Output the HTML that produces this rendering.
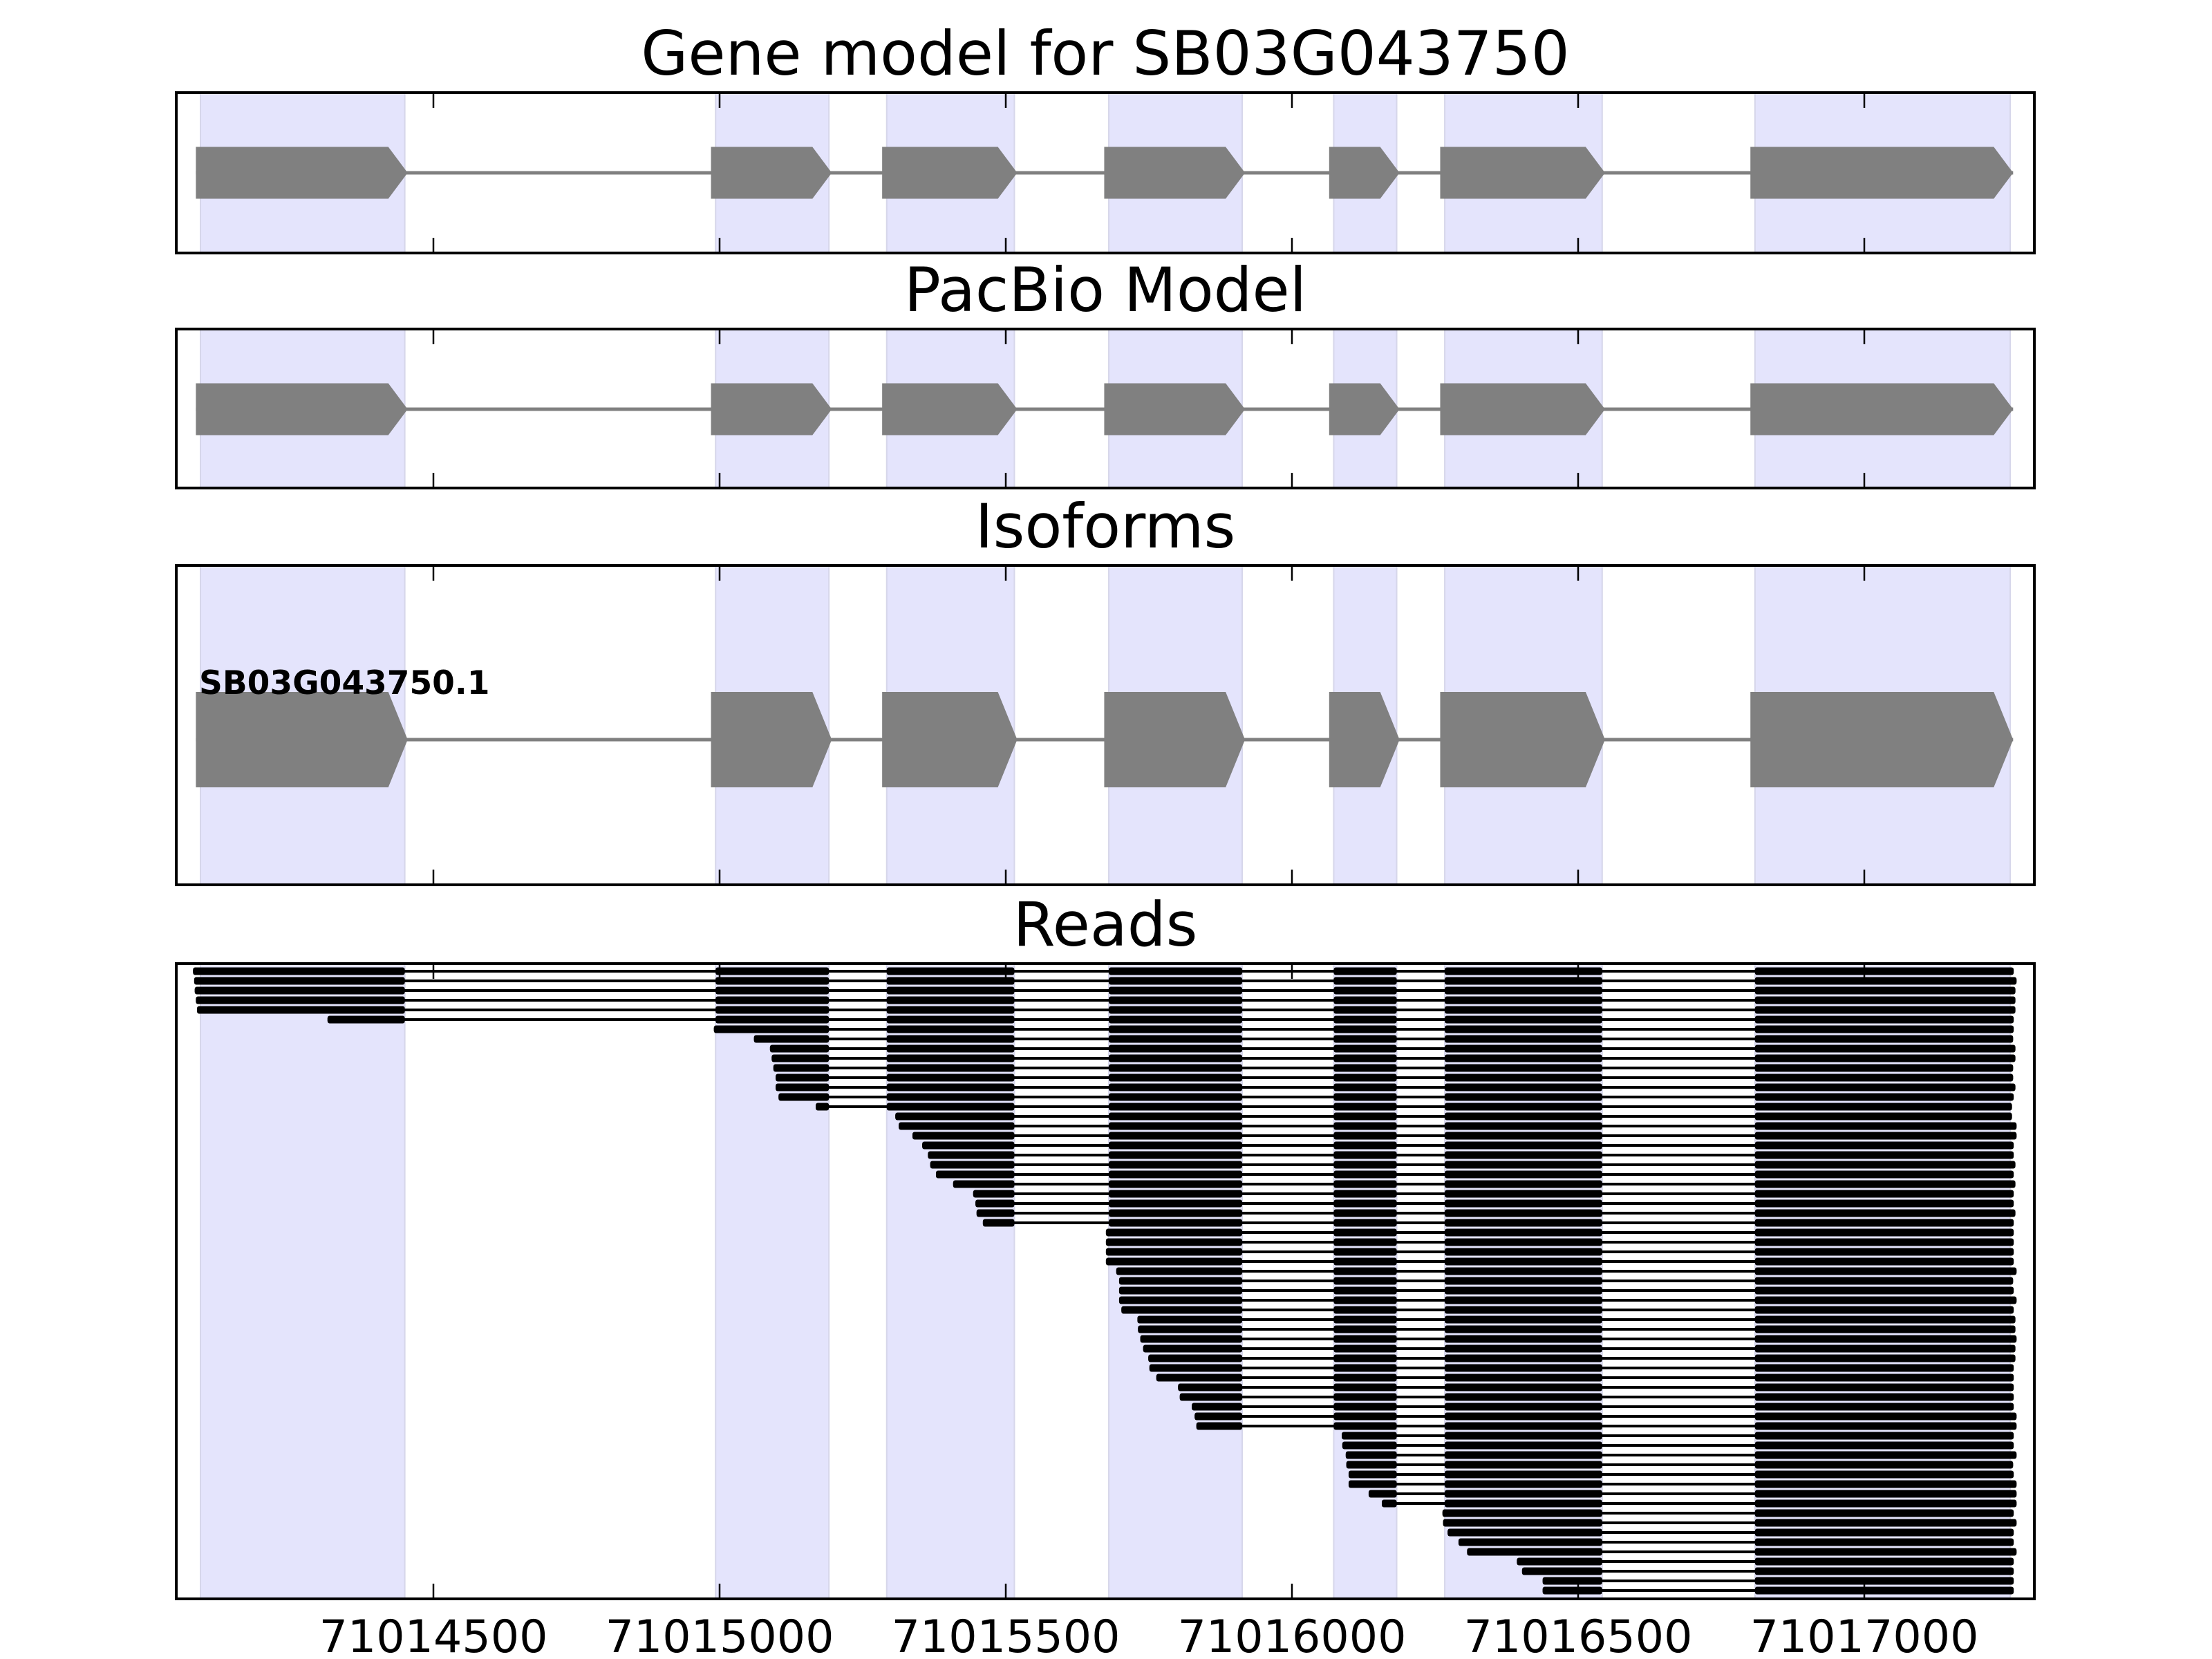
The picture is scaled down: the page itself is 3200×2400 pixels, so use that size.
<!DOCTYPE html>
<html><head><meta charset="utf-8"><style>
html,body{margin:0;padding:0;background:#fff;}
svg{display:block;font-family:"DejaVu Sans","Liberation Sans",sans-serif;}
</style></head><body>
<svg id="fig" width="3200" height="2400" viewBox="0 0 3200 2400" xmlns="http://www.w3.org/2000/svg">
<rect x="0" y="0" width="3200" height="2400" fill="#fff"/>
</svg>
<script>
// ---- data (genomic coordinates) ----
const exonStarts = [71014093, 71014993, 71015292, 71015680, 71016073, 71016267, 71016809];
const exonEnds   = [71014450, 71015191, 71015515, 71015913, 71016183, 71016542, 71017255];
const tickValues = [71014500, 71015000, 71015500, 71016000, 71016500, 71017000];
const tickLabels = ["71014500", "71015000", "71015500", "71016000", "71016500", "71017000"];
const panelTitles = ["Gene model for SB03G043750", "PacBio Model", "Isoforms", "Reads"];
const isoformNames = ["SB03G043750.1"];
const readStarts = [71014080, 71014082, 71014083, 71014085, 71014087, 71014315, 71014990, 71015060,
  71015088, 71015091, 71015094, 71015098, 71015098, 71015103, 71015168, 71015307, 71015313, 71015337,
  71015354, 71015364, 71015368, 71015378, 71015408, 71015443, 71015447, 71015449, 71015460,
  71015675, 71015675, 71015675, 71015675, 71015693, 71015698, 71015698, 71015698, 71015702,
  71015730, 71015731, 71015735, 71015740, 71015749, 71015751, 71015763, 71015801, 71015804,
  71015825, 71015830, 71015833, 71016087, 71016088, 71016094, 71016095, 71016099, 71016099,
  71016134, 71016157, 71016263, 71016264, 71016272, 71016291, 71016306, 71016393, 71016402,
  71016438, 71016438];
const readEnds = [71017261, 71017266, 71017264, 71017264, 71017264, 71017261, 71017261, 71017260,
  71017264, 71017264, 71017260, 71017260, 71017264, 71017261, 71017258, 71017258, 71017266, 71017266,
  71017261, 71017261, 71017264, 71017261, 71017264, 71017261, 71017261, 71017264, 71017261,
  71017261, 71017261, 71017261, 71017261, 71017266, 71017260, 71017261, 71017266, 71017261,
  71017264, 71017264, 71017266, 71017264, 71017264, 71017261, 71017261, 71017261, 71017261,
  71017261, 71017266, 71017266, 71017261, 71017261, 71017266, 71017260, 71017261, 71017266,
  71017266, 71017266, 71017261, 71017266, 71017261, 71017261, 71017266, 71017261, 71017261,
  71017261, 71017261];

// ---- layout ----
const NS = "http://www.w3.org/2000/svg";
const svg = document.getElementById("fig");
const L = 255, R = 2943;
const x0g = 71014500, x0p = 627, pxPerBp = 0.828;
function xs(g){ return x0p + (g - x0g) * pxPerBp; }
const panels = [
  {top:134, bot:366, name:"gene-model-panel", glyphC:250, glyphH:37.5},
  {top:476, bot:706, name:"pacbio-model-panel", glyphC:592, glyphH:37.5},
  {top:818, bot:1280, name:"isoforms-panel", glyphC:1070, glyphH:69},
  {top:1394, bot:2313, name:"reads-panel"}
];
function el(tag, attrs, parent){
  const e = document.createElementNS(NS, tag);
  for (const k in attrs) e.setAttribute(k, attrs[k]);
  (parent || svg).appendChild(e);
  return e;
}

panels.forEach((p, pi) => {
  const g = el("g", {});
  
  
  // shading
  exonStarts.forEach((s, i) => {
    const r = el("rect", {x: xs(s), y: p.top, width: xs(exonEnds[i]) - xs(s), height: p.bot - p.top,
      fill: "#e4e4fc", stroke: "#d6d6ea", "stroke-width": 2}, g);
    
    
  });
  if (pi < 3) {
    const c = p.glyphC, h = p.glyphH;
    const gs = xs(exonStarts[0] - 8), ge = xs(exonEnds[exonEnds.length - 1] + 5);
    const ln = el("line", {x1: gs, x2: ge, y1: c, y2: c, stroke: "#808080", "stroke-width": 5}, g);
    
    
    exonStarts.forEach((s, i) => {
      const a = xs(s - 8), b = xs(exonEnds[i] + 5), t = 28;
      const pts = [[a, c - h], [b - t, c - h], [b, c], [b - t, c + h], [a, c + h]].map(q => q.join(",")).join(" ");
      const pg = el("polygon", {points: pts, fill: "#808080"}, g);
      
      
    });
    if (pi === 2) {
      const tx = el("text", {x: 288, y: 1004, "font-size": 47, "font-weight": "bold", fill: "#000"}, g);
      tx.textContent = isoformNames[0];
      
      
    }
  } else {
    // reads
    readStarts.forEach((s, ri) => {
      const e = readEnds[ri];
      const y = 1405 + ri * 14;
      const rg = el("g", {}, g);
      
      
      el("line", {x1: xs(s), x2: xs(e), y1: y, y2: y, stroke: "#000", "stroke-width": 4}, rg);
      exonStarts.forEach((es, i) => {
        const ee = exonEnds[i];
        if (e < es - 20 || s > ee + 20) return;
        const bs = (s >= es - 20) ? s : es;
        const be = (e <= ee + 20) ? e : ee;
        if (be <= bs) return;
        const b = el("rect", {x: xs(bs), y: y - 5.5, width: xs(be) - xs(bs), height: 11, rx: 3, fill: "#000"}, rg);
        
        
      });
    });
  }
  // ticks
  tickValues.forEach(v => {
    const X = xs(v);
    const t1 = el("line", {x1: X, x2: X, y1: p.top, y2: p.top + 22, stroke: "#000", "stroke-width": 2.5}, g);
    
    
    const t2 = el("line", {x1: X, x2: X, y1: p.bot, y2: p.bot - 22, stroke: "#000", "stroke-width": 2.5}, g);
    
    
  });
  const fr = el("rect", {x: L, y: p.top, width: R - L, height: p.bot - p.top, fill: "none", stroke: "#000", "stroke-width": 4}, g);
  
  
  const tt = el("text", {x: (L + R) / 2, y: p.top - 26, "font-size": 88, "text-anchor": "middle", fill: "#000"}, g);
  tt.textContent = panelTitles[pi];
  
  
});
// x tick labels
tickValues.forEach((v, i) => {
  const t = el("text", {x: xs(v), y: 2390, "font-size": 65, "text-anchor": "middle", fill: "#000"});
  t.textContent = tickLabels[i];
  
  
});
</script>
</body></html>
